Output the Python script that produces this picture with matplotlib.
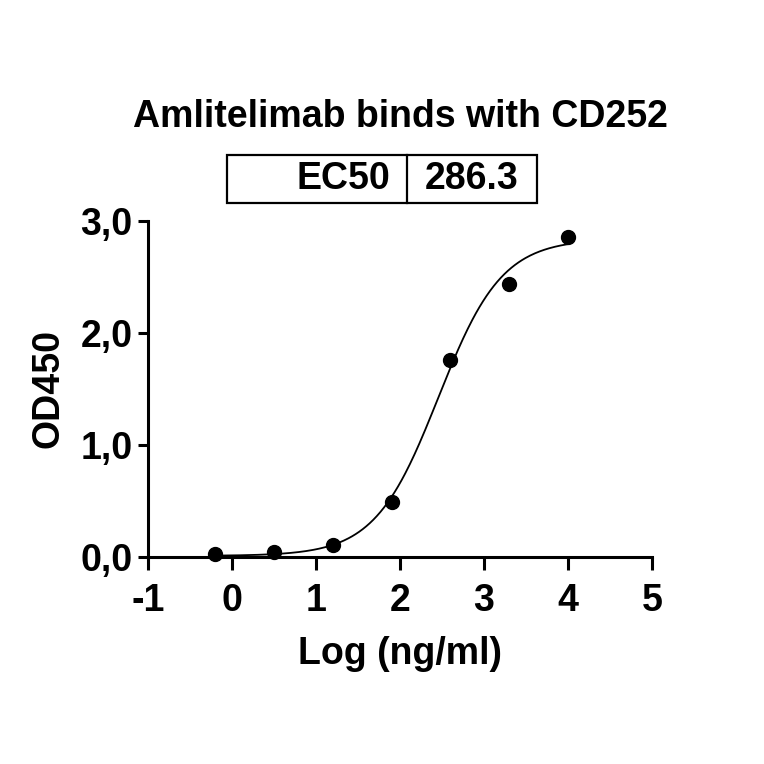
import numpy as np
import matplotlib
matplotlib.use("Agg")
import matplotlib.pyplot as plt
from matplotlib.patches import Rectangle

plt.rcParams["font.family"] = ["Liberation Sans", "DejaVu Sans"]
plt.rcParams["font.weight"] = "bold"
plt.rcParams["axes.unicode_minus"] = False

title = "Amlitelimab binds with CD252"
log_conc = [-0.2, 0.5, 1.2, 1.9, 2.6, 3.3, 4.0]
od450 = [0.027, 0.045, 0.107, 0.49, 1.76, 2.44, 2.86]
ec50 = 286.3
# 4PL fit parameters
bottom, top, hill = 0.01, 2.84, 1.15

fig = plt.figure(figsize=(7.64, 7.64), dpi=100)
ax = fig.add_axes([148/764, 1-557/764, 504/764, 336/764])

xs = np.linspace(min(log_conc), max(log_conc), 300)
fit = bottom + (top-bottom)/(1+10**((np.log10(ec50)-xs)*hill))
ax.plot(xs, fit, color="black", lw=1.3)
ax.plot(log_conc, od450, "o", color="black", ms=10, clip_on=False)

ax.set_xlim(-1, 5)
ax.set_ylim(0, 3)
ax.set_xticks(range(-1, 6))
ax.set_yticks([0, 1, 2, 3])
ax.set_yticklabels(["0,0", "1,0", "2,0", "3,0"])
for s in ["top", "right"]:
    ax.spines[s].set_visible(False)
for s in ["left", "bottom"]:
    ax.spines[s].set_linewidth(2.2)
ax.tick_params(axis="both", width=2.2, labelsize=27, direction="out")
ax.tick_params(axis="x", length=9, pad=10)
ax.tick_params(axis="y", length=7, pad=4)
for lab in ax.get_xticklabels() + ax.get_yticklabels():
    lab.set_fontweight("bold")

ax.set_xlabel("Log (ng/ml)", fontsize=27, fontweight="bold", labelpad=12)
ax.set_ylabel("OD450", fontsize=27, fontweight="bold", labelpad=10)

fig.text(400/764, 1-117/764, title, ha="center", va="center", fontsize=27, fontweight="bold")

# EC50 box
fig.patches.append(Rectangle((227/764, 1-203/764), 310/764, 48/764, transform=fig.transFigure,
                             fill=False, lw=1.6, ec="black"))
fig.add_artist(plt.Line2D([407/764, 407/764], [1-203/764, 1-155/764], transform=fig.transFigure,
                          color="black", lw=1.6))
fig.text(390/764, 1-179/764, "EC50", ha="right", va="center", fontsize=27, fontweight="bold")
fig.text(472/764, 1-179/764, f"{ec50}", ha="center", va="center", fontsize=27, fontweight="bold")

fig.savefig("out.png", dpi=100)
